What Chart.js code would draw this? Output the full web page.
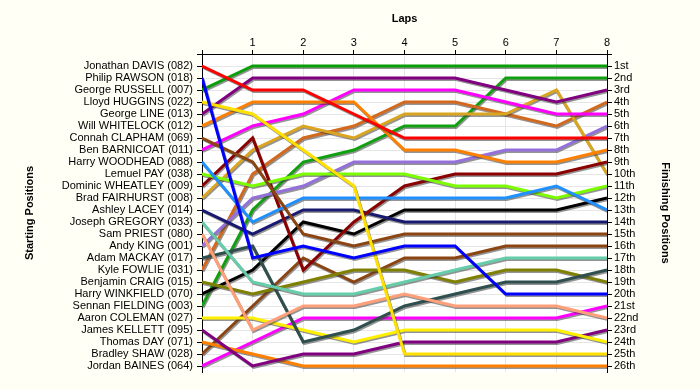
<!DOCTYPE html>
<html><head><meta charset="utf-8">
<script src="https://cdn.jsdelivr.net/npm/chart.js@4"></script>
<style>html,body{margin:0;padding:0;background:#fffff6;}</style>
</head><body>
<canvas id="c" width="700" height="390"></canvas>
<script>
const laps = [0,1,2,3,4,5,6,7,8];
const starters = ["Jonathan DAVIS (082)","Philip RAWSON (018)","George RUSSELL (007)","Lloyd HUGGINS (022)","George LINE (013)","Will WHITELOCK (012)","Connah CLAPHAM (069)","Ben BARNICOAT (011)","Harry WOODHEAD (088)","Lemuel PAY (038)","Dominic WHEATLEY (009)","Brad FAIRHURST (008)","Ashley LACEY (014)","Joseph GREGORY (033)","Sam PRIEST (080)","Andy KING (001)","Adam MACKAY (017)","Kyle FOWLIE (031)","Benjamin CRAIG (015)","Harry WINKFIELD (070)","Sennan FIELDING (003)","Aaron COLEMAN (027)","James KELLETT (095)","Thomas DAY (071)","Bradley SHAW (028)","Jordan BAINES (064)"];
const finishLabels = ["1st","2nd","3rd","4th","5th","6th","7th","8th","9th","10th","11th","12th","13th","14th","15th","16th","17th","18th","19th","20th","21st","22nd","23rd","24th","25th","26th"];
const titleX = "Laps", titleLeft = "Starting Positions", titleRight = "Finishing Positions";

const davis     = [1,3,3,5,7,7,7,7,7];
const rawson    = [2,17,16,17,16,16,20,20,20];
const russell   = [3,1,1,1,1,1,1,1,1];
const huggins   = [4,5,8,11,25,25,25,25,25];
const line013   = [5,2,2,2,2,2,3,4,3];
const whitelock = [6,4,4,4,8,8,9,9,8];
const clapham   = [7,9,15,16,15,15,15,15,15];
const barnicoat = [8,6,5,3,3,3,4,5,5];
const woodhead  = [9,14,12,12,12,12,12,11,13];
const pay       = [10,11,10,10,10,11,11,12,11];
const wheatley  = [11,7,18,14,11,10,10,10,9];
const fairhurst = [12,8,6,7,5,5,5,3,10];
const lacey     = [13,15,13,13,14,14,14,14,14];
const gregory   = [14,19,20,20,19,18,17,17,17];
const priest    = [15,23,21,21,20,21,21,21,22];
const king      = [16,12,11,9,9,9,8,8,6];
const mackay    = [17,16,24,23,21,20,19,19,18];
const fowlie    = [18,10,7,6,4,4,5,6,4];
const craig     = [19,20,19,18,18,19,18,18,19];
const winkfield = [20,18,14,15,13,13,13,13,12];
const fielding  = [21,13,9,8,6,6,2,2,2];
const coleman   = [22,22,23,24,23,23,23,23,24];
const kellett   = [23,26,25,25,24,24,24,24,23];
const day       = [24,25,26,26,26,26,26,26,26];
const shaw      = [25,21,17,19,17,17,16,16,16];
const baines    = [26,24,22,22,22,22,22,22,21];

const series = [davis,rawson,russell,huggins,line013,whitelock,clapham,barnicoat,woodhead,pay,wheatley,fairhurst,lacey,gregory,priest,king,mackay,fowlie,craig,winkfield,fielding,coleman,kellett,day,shaw,baines];
const colors = ["#ff0000","#0000ff","#0a9e0a","#ffe000","#800080","#ff8000","#8b4513","#ff00ff","#1e90ff","#7cfc00","#8b0000","#daa520","#191970","#66cdaa","#ffa07a","#9370db","#2f4f4f","#d2691e","#808000","#000000","#12a012","#fff000","#800080","#ff8000","#8b4513","#ff00ff"];

const FONT = "'Liberation Sans', Arial, sans-serif";
Chart.defaults.font.family = FONT;
Chart.defaults.font.size = 11;
Chart.defaults.color = "#000";

const bgPlugin = {
  id: 'bg',
  beforeDraw(chart) {
    const {ctx, chartArea: a} = chart;
    ctx.save();
    ctx.fillStyle = '#ffffff';
    ctx.fillRect(a.left, a.top, a.right - a.left, a.bottom - a.top);
    ctx.restore();
  }
};
const shadowPlugin = {
  id: 'shadow',
  beforeDatasetDraw(chart) {
    const ctx = chart.ctx;
    ctx.save();
    ctx.shadowColor = 'rgba(60,60,60,0.55)';
    ctx.shadowOffsetX = 1;
    ctx.shadowOffsetY = 1.5;
    ctx.shadowBlur = 0;
  },
  afterDatasetDraw(chart) { chart.ctx.restore(); }
};

const posTicks = Array.from({length: 27}, (_, i) => i);
const gridColor = '#e6e6e6';

new Chart(document.getElementById('c'), {
  type: 'line',
  data: {
    datasets: series.map((s, i) => ({
      label: starters[i],
      data: laps.map((l, j) => ({x: l, y: s[j]})),
      borderColor: colors[i],
      borderWidth: 3,
      pointRadius: 0,
      tension: 0,
      fill: false,
      yAxisID: 'y'
    }))
  },
  options: {
    responsive: false,
    animation: false,
    layout: {padding: {left: 0, right: 0, top: 0, bottom: 18}},
    plugins: {legend: {display: false}, tooltip: {enabled: false}},
    scales: {
      x: {
        type: 'linear', position: 'top', min: 0, max: 8,
        afterBuildTicks: s => { s.ticks = laps.map(v => ({value: v})); },
        afterFit: s => { s.height = 54; },
        ticks: {callback: v => v === 0 ? '' : String(v), padding: 0, font: {size: 11}},
        grid: {color: gridColor, tickColor: '#000', tickLength: 4},
        border: {color: '#000', width: 1},
        title: {display: true, text: titleX, font: {size: 11, weight: 'bold'}, padding: {top: 12, bottom: 0}}
      },
      y: {
        type: 'linear', position: 'left', reverse: true, min: 0, max: 26.5,
        afterBuildTicks: s => { s.ticks = posTicks.map(v => ({value: v})); },
        afterFit: s => { s.width = 202; },
        ticks: {autoSkip: false, callback: v => v === 0 ? '' : starters[v - 1], padding: 4, font: {size: 11, lineHeight: 1}},
        grid: {color: gridColor, tickColor: '#000', tickLength: 5},
        border: {color: '#000', width: 1},
        title: {display: true, text: titleLeft, font: {size: 11, weight: 'bold'}, padding: {top: 23, bottom: 0}}
      },
      y2: {
        type: 'linear', position: 'right', reverse: true, min: 0, max: 26.5,
        afterBuildTicks: s => { s.ticks = posTicks.map(v => ({value: v})); },
        afterFit: s => { s.width = 93; },
        ticks: {autoSkip: false, callback: v => v === 0 ? '' : finishLabels[v - 1], padding: 2, font: {size: 11, lineHeight: 1}},
        grid: {drawOnChartArea: false, tickColor: '#000', tickLength: 5},
        border: {color: '#000', width: 1},
        title: {display: true, text: titleRight, font: {size: 11, weight: 'bold'}, padding: {top: 28, bottom: 0}}
      }
    }
  },
  plugins: [bgPlugin, shadowPlugin]
});
</script>
</body></html>
